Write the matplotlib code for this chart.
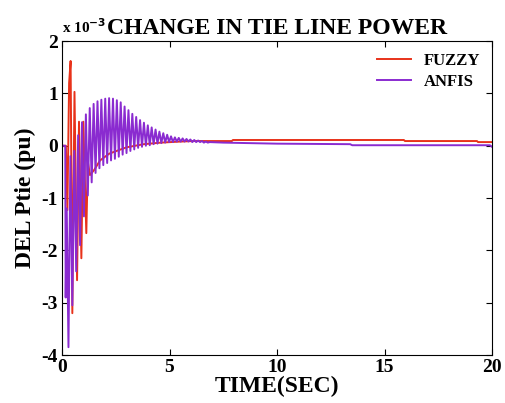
import numpy as np
import matplotlib
matplotlib.use("Agg")
import matplotlib.pyplot as plt

plt.rcParams['font.family'] = 'Liberation Serif'
plt.rcParams['font.weight'] = 'bold'
plt.rcParams['axes.unicode_minus'] = False

# values in units of 1e-3 pu
fuzzy_t = [0, 0.18, 0.25, 0.33, 0.40, 0.48, 0.58, 0.70, 0.79, 0.90, 0.99, 1.13,
           1.20, 1.30, 1.50, 1.77, 2.2, 3.0, 3.8, 4.6, 5.5, 6.1, 7.9, 7.95,
           15.9, 15.95, 19.3, 19.35, 20]
fuzzy_y = [0, 0, -1.23, 1.2, 1.62, -3.2, 1.03, -2.57, 0.46, -2.15, 0.46, -1.67,
           -0.3, -0.56, -0.46, -0.28, -0.15, -0.03, 0.03, 0.06, 0.08, 0.09, 0.09, 0.11,
           0.11, 0.09, 0.09, 0.07, 0.07]

anfis_start_t = [0, 0.15, 0.17, 0.22]
anfis_start_y = [0, 0, -2.9, -1.2]

trough_t = [0.30, 0.48, 0.66, 0.84, 1.02, 1.20, 1.38, 1.56, 1.74, 1.92, 2.10, 2.28,
            2.46, 2.64, 2.82, 3.00, 3.18, 3.36, 3.54, 3.72, 3.90, 4.08, 4.26, 4.44,
            4.62, 4.80, 4.98, 5.16, 5.34, 5.52, 5.70, 5.88, 6.06, 6.24, 6.42, 6.60, 6.78]
trough_y = [-3.85, -3.05, -2.4, -1.9, -1.35, -0.95, -0.7, -0.52, -0.43, -0.37, -0.33, -0.28,
            -0.25, -0.21, -0.17, -0.14, -0.1, -0.07, -0.04, -0.02, 0.0, 0.01, 0.03, 0.04,
            0.05, 0.06, 0.07, 0.07, 0.08, 0.08, 0.08, 0.08, 0.07, 0.07, 0.07, 0.06, 0.06]
peak_t = [0.39, 0.57, 0.75, 0.93, 1.11, 1.29, 1.47, 1.65, 1.83, 2.01, 2.19, 2.37,
          2.55, 2.73, 2.91, 3.09, 3.27, 3.45, 3.63, 3.81, 3.99, 4.17, 4.35, 4.53,
          4.71, 4.89, 5.07, 5.25, 5.43, 5.61, 5.79, 5.97, 6.15, 6.33, 6.51, 6.69, 6.87]
peak_y = [-0.2, -0.1, 0.2, 0.45, 0.6, 0.72, 0.8, 0.85, 0.88, 0.9, 0.91, 0.9,
          0.87, 0.83, 0.75, 0.68, 0.61, 0.55, 0.49, 0.44, 0.39, 0.35, 0.31, 0.27,
          0.24, 0.21, 0.18, 0.16, 0.15, 0.14, 0.13, 0.12, 0.11, 0.10, 0.09, 0.08, 0.07]
anfis_end_t = [7.5, 10, 13.4, 13.5, 19.9, 20]
anfis_end_y = [0.06, 0.04, 0.03, 0.01, 0.01, -0.02]

# interleave troughs and peaks
osc_t = [v for pair in zip(trough_t, peak_t) for v in pair]
osc_y = [v for pair in zip(trough_y, peak_y) for v in pair]
anfis_t = anfis_start_t + osc_t + anfis_end_t
anfis_y = anfis_start_y + osc_y + anfis_end_y

fig = plt.figure(figsize=(5.05, 4.03), dpi=100)
ax = fig.add_axes([0.1228, 0.119, 0.8515, 0.779])

ax.plot(fuzzy_t, fuzzy_y, color='#E8321A', lw=1.4, label='FUZZY')
ax.plot(anfis_t, anfis_y, color='#8A2BD0', lw=1.4, label='ANFIS')

ax.set_xlim(0, 20)
ax.set_ylim(-4, 2)
ax.set_xticks([0, 5, 10, 15, 20])
ax.set_yticks([-4, -3, -2, -1, 0, 1, 2])
ax.tick_params(direction='in', top=True, right=True, labelsize=14, length=4, pad=3)
for lab in ax.get_xticklabels() + ax.get_yticklabels():
    lab.set_fontweight('bold')

ax.set_title('CHANGE IN TIE LINE POWER', fontsize=17, fontweight='bold', pad=5)
ax.set_xlabel('TIME(SEC)', fontsize=17, fontweight='bold', labelpad=0)
ax.set_ylabel('DEL Ptie (pu)', fontsize=17, fontweight='bold', labelpad=4)
ax.text(0.0, 1.015, r'x 10$^{\mathbf{-3}}$', transform=ax.transAxes, fontsize=11,
        fontweight='bold', ha='left', va='bottom')

ax.legend(loc='upper right', frameon=False, handlelength=2.0,
          borderaxespad=0.3, labelspacing=0.3, prop={'weight': 'bold', 'size': 12})

fig.savefig('out.png', dpi=100)
